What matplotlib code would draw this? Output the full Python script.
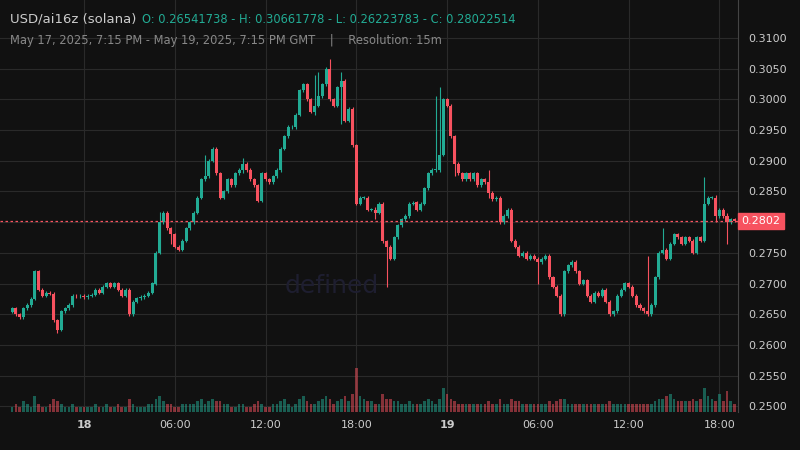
import matplotlib
matplotlib.use("Agg")
import matplotlib.pyplot as plt
import numpy as np

closes = [0.2660,0.2650,0.2645,0.2660,0.2665,0.2675,0.2720,0.2690,0.2680,0.2685,0.2683,0.2640,0.2625,0.2655,0.2660,0.2665,0.2680,0.2679,0.2680,0.2678,
 0.2680,0.2682,0.2690,0.2685,0.2695,0.2700,0.2695,0.2700,0.2690,0.2680,0.2690,0.2650,0.2670,0.2676,0.2678,0.2680,0.2685,0.2700,0.2750,0.2800,0.2815,0.2790,0.2780,0.2760,0.2755,0.2770,0.2790,0.2800,
 0.2815,0.2840,0.2870,0.2875,0.2900,0.2920,0.2880,0.2840,0.2850,0.2870,0.2860,0.2880,0.2885,0.2895,0.2885,0.2870,0.2860,0.2835,0.2880,0.2870,0.2865,0.2875,0.2885,0.2920,0.2940,0.2955,0.2955,
 0.2975,0.3015,0.3025,0.3000,0.2980,0.2990,0.3005,0.3025,0.3050,0.3000,0.2990,0.3020,0.3030,0.2965,0.2985,0.2925,0.2830,0.2840,0.2840,0.2820,0.2820,0.2815,
 0.2830,0.2769,0.2760,0.2740,0.2775,0.2795,0.2805,0.2810,0.2830,0.2832,0.2820,0.2830,0.2855,0.2880,0.2885,0.2885,0.2910,0.3000,0.2990,0.2940,
 0.2895,0.2880,0.2870,0.2880,0.2870,0.2880,0.2860,0.2870,0.2865,0.2848,0.2837,0.2840,0.2800,0.2810,0.2820,0.2770,0.2760,0.2745,0.2750,0.2740,
 0.2745,0.2740,0.2735,0.2740,0.2745,0.2710,0.2695,
 0.2680,0.2650,0.2720,0.2730,0.2735,0.2720,0.2700,0.2705,0.2680,0.2670,0.2685,0.2680,0.2690,0.2670,0.2650,0.2655,0.2680,0.2690,
 0.2700,0.2695,0.2680,0.2665,0.2660,0.2655,0.2650,0.2665,0.2710,0.2750,0.2755,0.2740,0.2765,0.2780,0.2775,0.2765,0.2775,0.2770,0.2750,0.2775,
 0.2770,0.2830,0.2840,0.2840,0.2810,0.2820,0.2810,0.2800,0.2805,0.2802]
first_open = 0.26541738
# notable wick extremes: index -> (high, low)
spikes = {6:(0.2722,0.2690), 12:(0.2640,0.2620), 39:(0.2817,0.2790), 42:(0.2785,0.2765), 51:(0.2910,0.2870),
          61:(0.2905,0.2880), 80:(0.3040,0.2975), 81:(0.3045,0.2998), 84:(0.3066,0.3020), 87:(0.3045,0.2960),
          96:(0.2825,0.2805), 99:(0.2762,0.2695), 112:(0.3005,0.2905), 113:(0.3020,0.2975), 117:(0.2890,0.2875),
          126:(0.2885,0.2840), 139:(0.2735,0.2700), 168:(0.2745,0.2690), 172:(0.2790,0.2750),
          183:(0.2873,0.2770), 186:(0.2845,0.2800), 189:(0.2815,0.2765)}
volumes = [2,3,2,4,3,2,6,3,2,2,3,5,4,3,2,2,3,2,2,2,
 2,2,3,2,2,3,2,2,3,2,2,5,3,2,2,2,3,3,5,6,4,3,3,2,2,3,3,3,
 3,4,5,3,4,5,4,4,3,3,2,2,3,3,2,2,3,4,3,2,2,3,3,4,5,3,2,
 3,5,6,4,3,3,4,5,6,5,3,4,5,6,4,7,17,6,5,4,4,3,
 3,7,5,5,4,4,3,3,4,3,3,3,4,5,4,3,5,9,7,5,
 4,3,3,3,3,3,3,3,3,4,3,3,5,3,3,5,4,4,3,3,
 3,3,3,3,3,4,3,
 4,5,5,3,3,3,3,3,3,3,3,3,3,3,4,3,3,3,
 3,3,3,3,3,3,3,3,4,5,5,6,7,5,4,4,4,4,5,4,
 5,9,6,5,4,7,4,8,4,3]
xtick_pos = [19,43,67,91,115,139,163,187]
xtick_lab = ["18","06:00","12:00","18:00","19","06:00","12:00","18:00"]
yticks = [0.2500,0.2550,0.2600,0.2650,0.2700,0.2750,0.2800,0.2850,0.2900,0.2950,0.3000,0.3050,0.3100]

n = len(closes)
opens = [first_open] + closes[:-1]
GREEN, RED = "#22ab94", "#f7525f"
BG = "#111111"

fig = plt.figure(figsize=(8,4.5), dpi=100, facecolor=BG)
ax = fig.add_axes([0.0, 0.085, 0.922, 0.915], facecolor=BG)
ymin, ymax = 0.2491, 0.3162
ax.set_ylim(ymin, ymax)
ax.set_xlim(-3.2, 191.8)
for xi in xtick_pos:
    ax.axvline(xi, color="#2a2a2a", lw=0.8, zorder=0)
for yt in yticks:
    ax.axhline(yt, color="#2a2a2a", lw=0.8, zorder=0)

vscale = 0.0090/17
for i in range(n):
    o, c = opens[i], closes[i]
    col = GREEN if c >= o else RED
    hi = max(o, c) + 0.00025
    lo = min(o, c) - 0.00025
    if i in spikes:
        hi, lo = max(hi, spikes[i][0]), min(lo, spikes[i][1])
    ax.vlines(i, lo, hi, color=col, lw=0.8, zorder=3)
    b = max(abs(c-o), 0.00008)
    ax.bar(i, b, bottom=min(o, c), width=0.8, color=col, zorder=4)
    ax.bar(i, volumes[i]*vscale*0.8, bottom=ymin, width=0.7, color=col, alpha=0.5, zorder=2)

last = closes[-1]
ax.axhline(last, color=RED, lw=0.9, ls=(0,(2,2)), zorder=5)
ax.yaxis.tick_right()
ax.set_yticks(yticks)
ax.set_yticklabels(["" if abs(v-0.28) < 1e-6 else f"{v:.4f}" for v in yticks])
ax.set_xticks(xtick_pos)
ax.set_xticklabels(xtick_lab)
for lab, t in zip(ax.get_xticklabels(), xtick_lab):
    if t in ("18", "19"):
        lab.set_fontweight("bold")
ax.tick_params(colors="#cccccc", labelsize=8, length=0, pad=6)
ax.tick_params(axis="y", pad=8)
for s in ax.spines.values():
    s.set_visible(False)
ax.spines["right"].set_visible(True); ax.spines["right"].set_color("#444444")
ax.text(1.005, last, "0.2802", transform=ax.get_yaxis_transform(), color="white", fontsize=8,
        va="center", ha="left", bbox=dict(boxstyle="square,pad=0.3", fc=RED, ec=RED), zorder=10, clip_on=False)
ax.text(0.45, 0.305, "defined", transform=ax.transAxes, fontsize=18, color="#1e1e30", ha="center", va="center", zorder=1)

fig.text(0.012, 0.957, "USD/ai16z (solana)", color="#cccccc", fontsize=9.5, va="center")
fig.text(0.177, 0.957, "O: 0.26541738 - H: 0.30661778 - L: 0.26223783 - C: 0.28022514", color=GREEN, fontsize=8.3, va="center")
fig.text(0.012, 0.91, "May 17, 2025, 7:15 PM - May 19, 2025, 7:15 PM GMT    |    Resolution: 15m", color="#888888", fontsize=8.3, va="center")
fig.savefig("out.png", dpi=100, facecolor=BG)
